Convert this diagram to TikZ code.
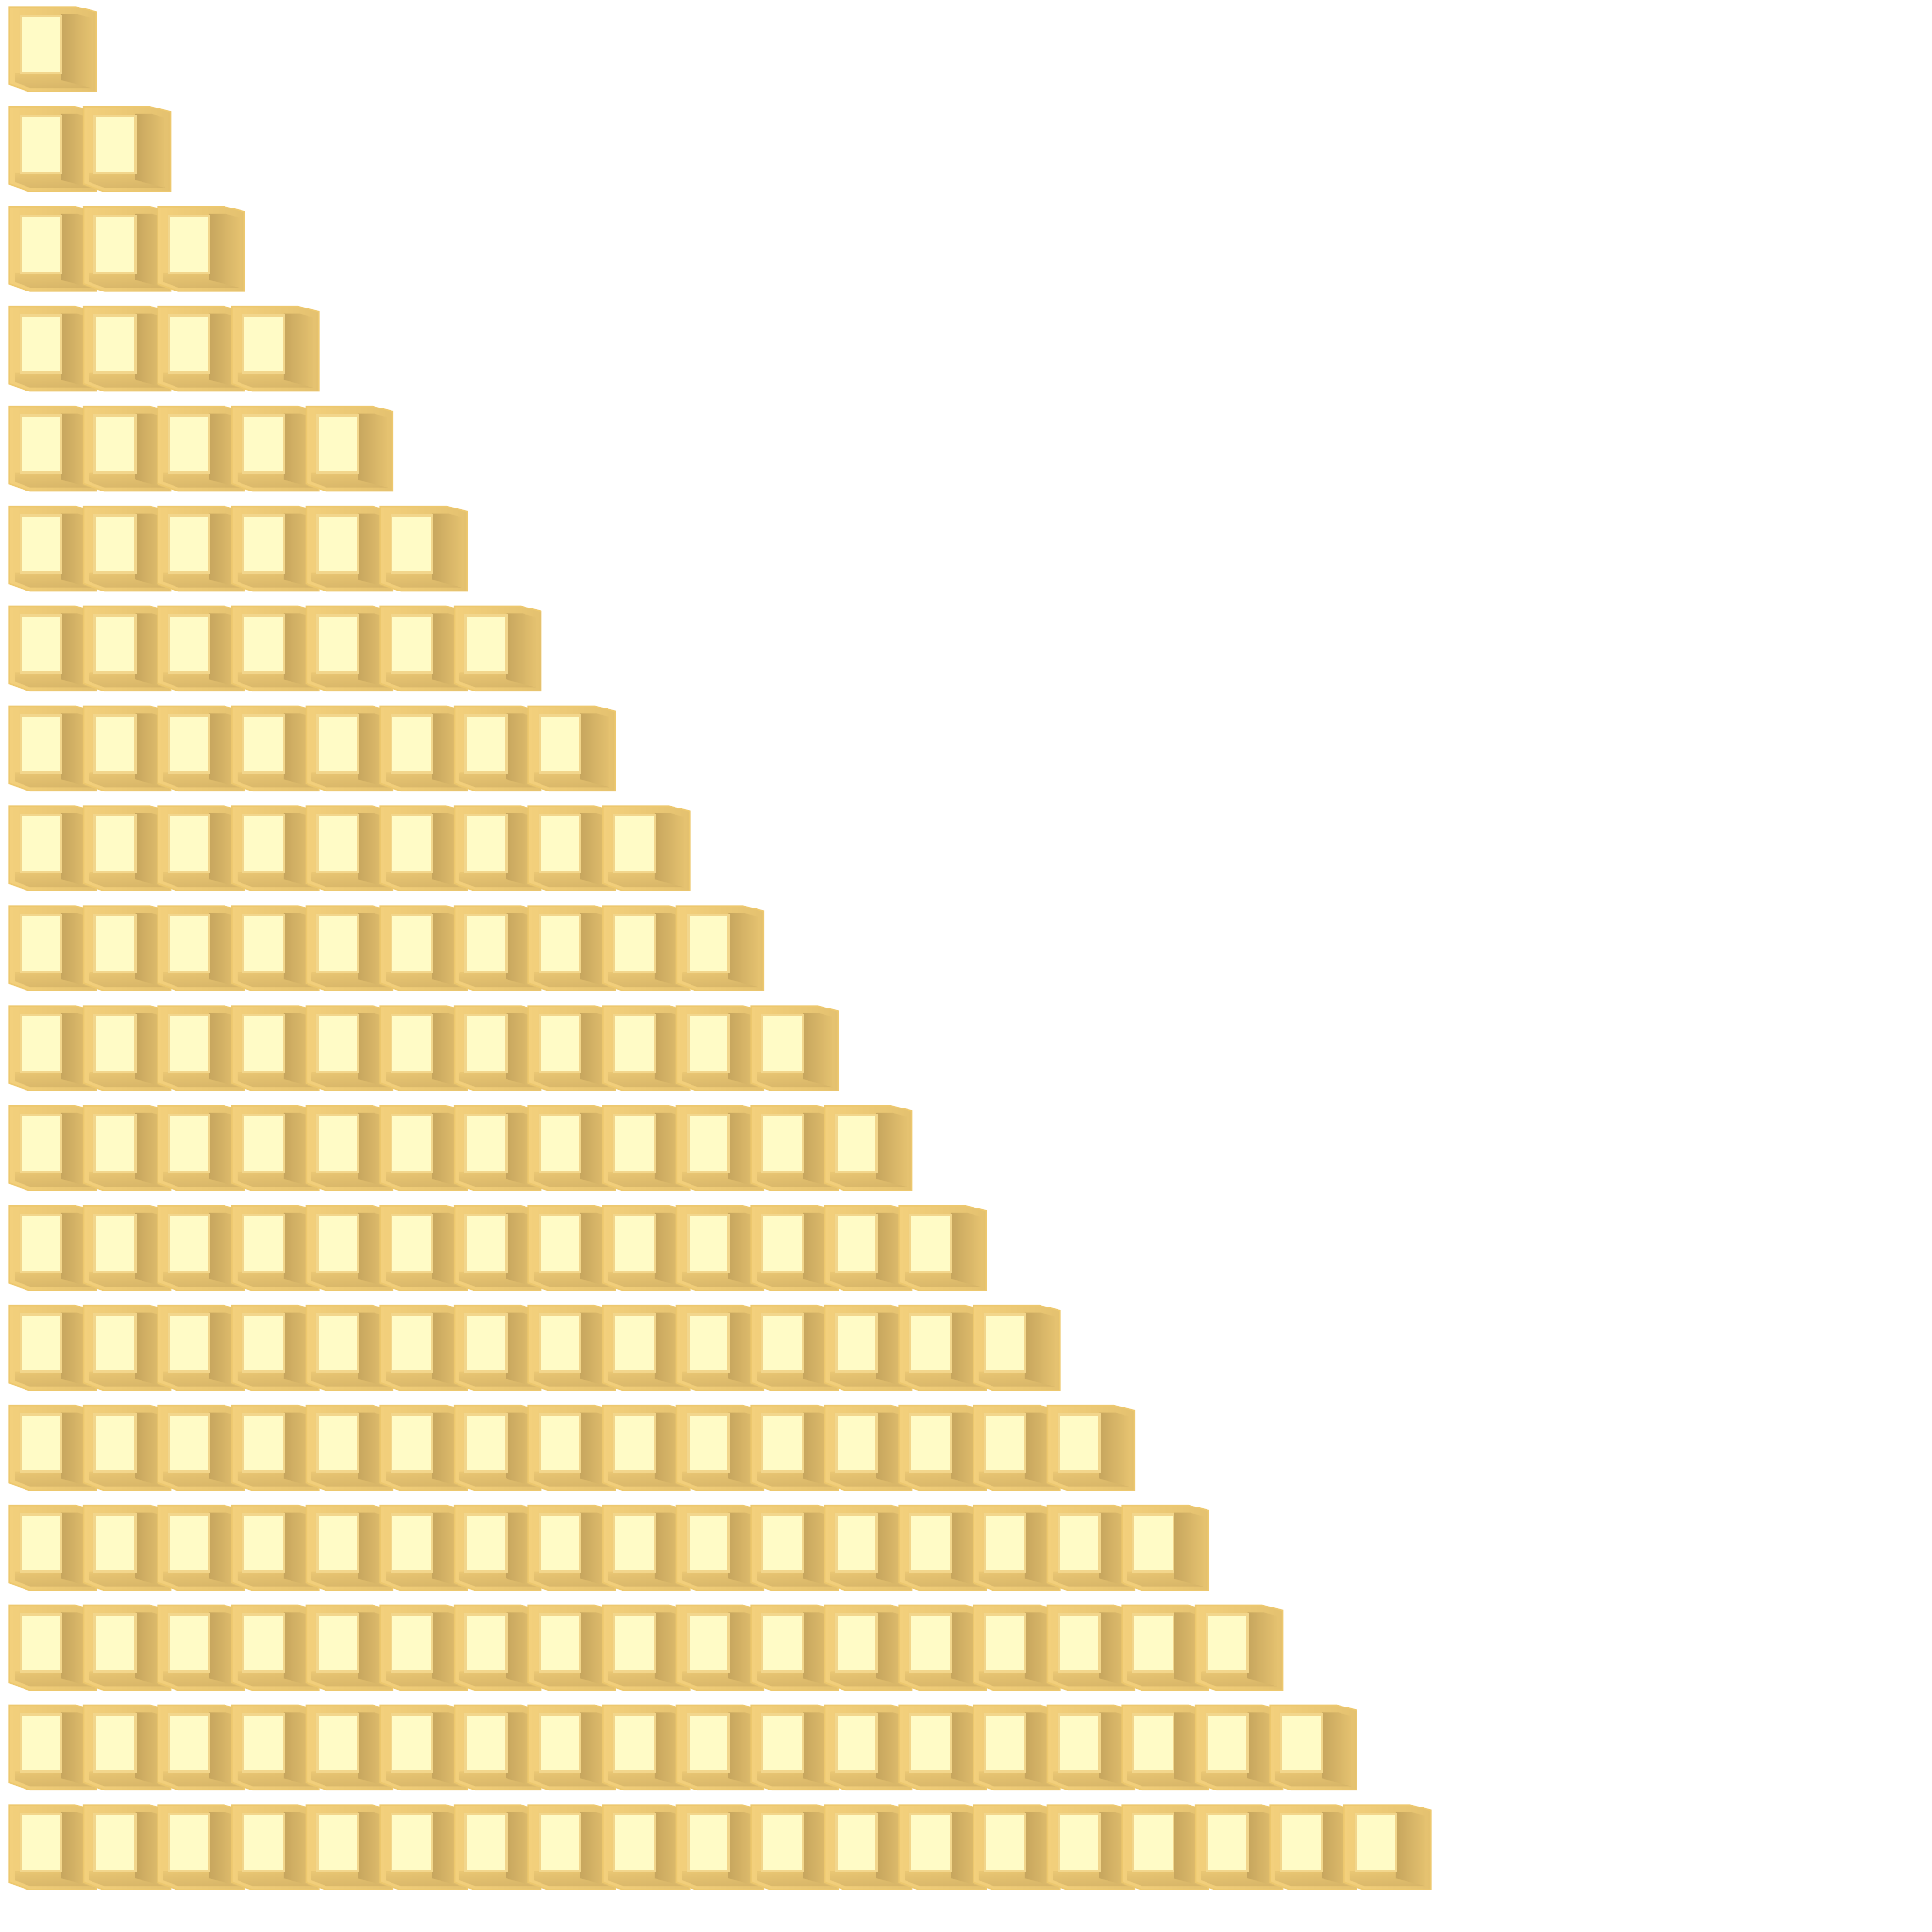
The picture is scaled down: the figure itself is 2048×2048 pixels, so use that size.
\documentclass[tikz,border=0pt]{standalone}
\usetikzlibrary{calc}
\definecolor{goldL}{HTML}{F3D07C}
\definecolor{goldM}{HTML}{E4C16F}
\definecolor{goldD}{HTML}{C7A65E}
\definecolor{goldE}{HTML}{EDC86E}
\definecolor{paleY}{HTML}{FFFBC6}
\definecolor{paleE}{HTML}{F2D68C}
\tikzset{
  boxbody/.style={left color=goldL, right color=goldM, draw=goldE, line width=1.5pt},
  boxshade/.style={left color=goldD, right color=goldM, draw=none},
  boxbottom/.style={top color=goldM, bottom color=goldD!80!goldM, draw=none, opacity=0.6},
  boxinner/.style={fill=paleY, draw=paleE, line width=2.5pt},
  pics/goldbox/.style={code={
    \path[boxbody] (0,0) -- (70,0) -- (92,6) -- (92,90) -- (22,90) -- (0,82) -- cycle;
    \path[boxbottom] (6,70) -- (80,70) -- (86,86) -- (22,86) -- (6,80) -- cycle;
    \path[boxshade] (55,8) -- (72,8) -- (86,12) -- (86,86) -- (55,78) -- cycle;
    \path[boxinner] (12,10) rectangle (55,70);
  }}
}
\begin{document}
\begin{tikzpicture}[x=1pt,y=-1pt]
\useasboundingbox (0,0) rectangle (2048,2048);
\foreach \r in {0,...,18}{
  \foreach \c in {0,...,\r}{
    \pic at ({10+\c*78.6},{7+\r*105.9}) {goldbox};
  }
}
\end{tikzpicture}
\end{document}
